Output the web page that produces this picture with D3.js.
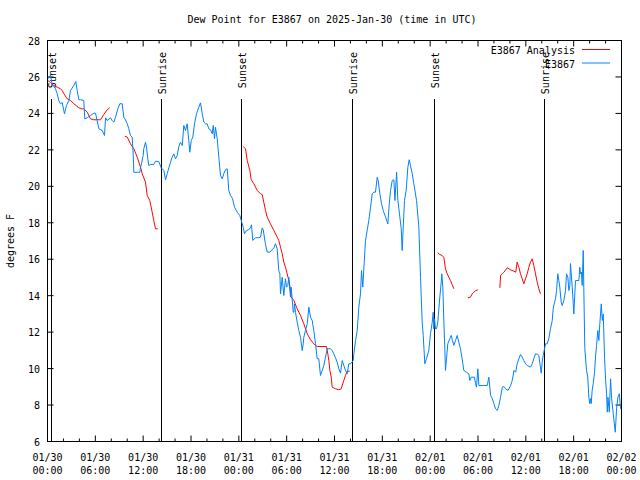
<!DOCTYPE html>
<html><head><meta charset="utf-8">
<script src="https://cdn.jsdelivr.net/npm/d3@7"></script>
<style>
html,body{margin:0;padding:0;background:#fff;}
text{font-family:"DejaVu Sans Mono","Liberation Mono",monospace;font-size:10px;fill:#000;}
</style></head>
<body><svg id="c" width="640" height="480"></svg>
<script>
// Hours after 2025-01-30 00:00 UTC
const obsHours = [0.04,0.38,0.59,1.0,1.22,1.42,1.63,1.84,2.13,2.38,2.67,2.89,3.3,3.55,3.72,3.93,4.14,4.55,4.68,4.98,5.39,5.81,6.02,6.23,6.44,6.86,7.15,7.28,7.49,7.9,8.12,8.32,8.53,8.82,9.07,9.37,9.57,9.78,10.0,10.2,10.41,10.62,10.75,10.83,11.25,11.58,11.67,11.79,12.0,12.08,12.29,12.42,12.58,12.71,12.92,13.33,13.55,13.96,14.26,14.59,14.8,15.02,15.22,15.43,15.64,15.84,16.06,16.27,16.47,16.68,16.9,17.1,17.31,17.52,17.72,17.85,18.03,18.23,18.44,18.69,18.98,19.19,19.41,19.61,19.82,20.03,20.23,20.45,20.66,20.79,20.95,21.07,21.29,21.49,21.7,21.92,22.11,22.33,22.54,22.62,22.74,22.96,23.21,23.46,23.8,24.12,24.55,24.71,24.96,25.25,25.46,25.59,25.75,26.09,26.5,26.72,26.93,27.06,27.33,27.56,27.88,28.19,28.4,28.6,28.81,29.01,29.15,29.23,29.44,29.64,29.85,29.98,30.14,30.27,30.48,30.57,30.69,30.82,30.9,30.98,31.11,31.32,31.52,31.74,31.95,32.08,32.15,32.36,32.58,32.78,32.99,33.2,33.4,33.62,33.83,34.03,34.24,34.46,34.66,35.09,35.5,35.71,35.91,36.13,36.34,36.54,36.75,36.97,37.17,37.38,37.59,37.79,38.01,38.35,38.43,38.64,38.85,39.05,39.26,39.39,39.55,39.68,39.89,40.1,40.3,40.52,40.73,40.93,41.14,41.36,41.48,41.69,41.9,42.11,42.41,42.69,42.87,43.03,43.24,43.45,43.58,43.79,43.95,44.15,44.37,44.49,44.62,44.78,44.99,45.2,45.37,45.53,45.75,45.95,46.29,46.58,46.79,47.0,47.13,47.33,47.54,47.83,48.04,48.26,48.38,48.46,48.54,48.67,48.8,48.96,49.21,49.39,49.46,49.59,49.72,49.84,49.92,50.05,50.21,50.46,50.64,50.8,50.97,51.18,51.39,51.59,51.8,52.01,52.22,52.56,52.85,52.97,53.15,53.56,53.69,53.81,53.98,54.11,54.53,55.16,55.36,55.58,55.79,55.99,56.21,56.42,56.62,56.83,57.05,57.25,57.47,57.76,58.09,58.3,58.51,58.73,58.91,59.13,59.33,59.54,59.75,59.96,60.17,60.58,60.8,61.0,61.21,61.43,61.63,61.93,62.05,62.18,62.34,62.47,62.68,62.88,63.09,63.31,63.43,63.6,63.72,63.85,64.01,64.14,64.26,64.44,64.56,64.77,64.98,65.1,65.27,65.4,65.52,65.6,65.82,65.95,66.02,66.23,66.65,66.77,66.86,66.98,67.07,67.2,67.27,67.4,67.61,67.77,67.9,68.02,68.11,68.2,68.32,68.45,68.62,68.74,68.87,69.03,69.16,69.28,69.46,69.59,69.71,69.88,70.01,70.13,70.22,70.3,70.47,70.63,70.76,70.97,71.1,71.22,71.38,71.55,71.73,71.89];
const obsDew = [25.9,26.1,25.6,25.35,25.08,24.7,24.53,24.6,23.98,24.43,24.7,25.26,25.53,25.75,25.26,24.75,24.75,24.71,23.7,23.76,23.89,24.01,24.01,23.61,23.16,23.06,22.79,23.76,23.61,23.76,23.61,23.52,23.79,24.25,24.53,24.53,23.79,23.65,23.43,23.16,22.79,22.7,21.78,20.77,20.77,20.77,21.05,21.24,21.69,22.06,22.42,22.15,21.51,21.14,21.2,21.2,21.38,21.36,21.02,20.87,20.36,20.69,21.02,21.32,21.6,21.78,21.51,21.69,22.18,22.42,22.24,23.34,23.06,23.43,22.51,21.87,22.51,22.7,23.43,23.98,24.34,24.58,23.98,23.52,23.43,23.43,23.16,23.1,22.88,23.34,22.61,23.24,22.61,21.6,20.6,20.41,20.69,20.91,20.96,20.5,19.77,19.5,19.33,18.85,18.58,18.4,17.76,17.4,17.58,17.62,17.73,17.89,17.03,17.18,17.18,17.21,17.72,17.62,16.85,16.39,16.39,16.52,16.63,16.85,16.57,15.38,15.2,14.1,15.01,14.01,14.93,14.47,14.56,15.01,13.92,14.47,13.83,13.09,13.09,13.55,13.09,12.55,12.09,11.72,10.99,11.36,11.72,12.09,12.46,13.37,12.82,12.64,12.09,11.36,10.54,10.54,9.62,9.9,10.17,11.09,11.09,10.99,10.81,10.59,10.35,9.99,9.75,10.44,10.17,9.9,9.71,10.26,10.26,10.44,10.81,11.54,12.09,13.37,14.1,15.38,14.47,15.47,17.03,17.58,18.12,18.85,19.59,19.68,19.68,20.5,20.32,19.59,19.04,18.67,18.31,17.94,19.04,19.77,20.32,20.36,19.22,20.77,19.22,18.49,17.67,16.48,17.76,19.22,19.77,21.05,21.46,21.14,20.69,20.14,19.22,17.76,15.01,12.55,11.82,10.26,10.54,10.99,11.91,12.55,13.09,12.18,12.73,12.18,12.18,12.55,13.92,14.74,15.2,14.47,12.55,11.09,9.9,10.54,11.36,11.64,11.82,11.54,11.27,11.54,11.82,11.45,11.09,10.54,9.9,9.8,9.71,9.35,9.53,9.53,9.17,8.98,9.99,9.07,9.07,9.07,9.53,8.53,8.35,8.08,7.79,7.7,7.98,8.43,8.98,9.02,8.89,8.8,9.07,9.35,9.9,9.8,10.26,10.54,10.77,10.63,10.44,10.26,10.17,10.08,10.26,10.54,10.81,10.79,10.72,9.75,10.35,10.72,11.09,11.36,11.36,11.64,12.18,12.64,13.28,13.64,13.83,14.28,15.2,14.83,14.47,13.64,13.46,13.74,14.28,15.2,15.01,14.28,14.56,15.76,14.47,13.55,13.0,14.83,14.83,15.56,15.2,15.29,14.56,16.48,14.47,11.09,9.9,9.53,8.43,8.08,8.35,8.08,8.8,9.17,9.8,10.63,11.27,12.09,11.54,12.46,13.55,12.64,13.0,10.54,9.35,8.62,7.61,8.43,7.61,9.44,8.35,7.52,6.97,6.51,7.79,8.43,8.62,7.79];

// Analysis series; null marks a gap
const anaHours = [0,0.38,0.79,1.22,1.63,1.84,2.05,2.47,2.89,3.3,3.93,4.35,4.55,4.98,5.39,5.81,6.65,7.06,7.49,7.81,8.5,
  9.7,10.0,10.41,10.83,11.25,11.67,11.88,12.29,12.51,12.83,13.13,13.33,13.55,13.84,20,
  24.55,24.84,25.05,25.38,25.55,25.89,26.31,26.72,26.93,27.13,27.35,27.56,27.97,28.39,28.81,29.01,29.23,29.44,29.64,29.85,30.06,30.27,30.39,30.57,30.9,31.32,31.74,32.15,32.58,32.99,33.4,33.83,35.0,35.16,35.29,35.42,35.59,35.71,36.13,36.54,36.84,37.17,37.38,37.59,37.92,44,
  48.96,49.21,49.51,49.71,49.92,50.14,50.34,50.55,50.76,50.97,52,
  52.72,53.06,53.27,53.48,53.69,53.98,55,
  56.74,56.83,57.05,57.25,57.67,58.09,58.51,58.73,58.91,59.13,59.33,59.54,59.75,59.96,60.17,60.38,60.58,60.8,61.0,61.21,61.43,61.63,61.84];
const anaDew = [25.81,25.7,25.53,25.44,25.35,25.26,25.08,24.8,24.71,24.53,24.31,24.25,24.25,24.07,23.7,23.65,23.65,23.94,24.2,24.31,null,
  22.75,22.7,22.33,22.06,21.6,21.05,20.69,20.23,19.5,19.22,18.58,18.12,17.67,17.67,null,
  22.18,22.06,21.42,20.87,20.36,20.14,19.77,19.59,19.55,19.13,18.67,18.31,17.94,17.58,17.21,17.03,16.66,16.3,15.84,15.56,15.2,14.83,14.56,13.92,13.74,13.28,12.91,12.46,11.91,11.58,11.36,11.21,11.21,10.81,10.44,9.9,9.53,8.98,8.89,8.84,8.89,9.35,9.62,9.86,9.86,null,
  16.35,16.26,16.2,16.11,15.47,15.2,15.01,14.83,14.61,14.38,null,
  13.88,13.92,14.1,14.19,14.28,14.32,null,
  14.43,15.11,15.2,15.29,15.53,15.42,15.34,15.29,15.84,15.56,15.2,14.93,14.65,14.93,15.2,15.56,15.84,16.02,15.66,15.2,14.74,14.38,14.1];

const sunHours = [0.5,14.3,24.33,38.26,48.54,62.34];
const sunLabels = ["Sunset","Sunrise","Sunset","Sunrise","Sunset","Sunrise"];
const xTickHours = [0,6,12,18,24,30,36,42,48,54,60,66,72];
const xTickDates = ["01/30","01/30","01/30","01/30","01/31","01/31","01/31","01/31","02/01","02/01","02/01","02/01","02/02"];
const xTickTimes = ["00:00","06:00","12:00","18:00","00:00","06:00","12:00","18:00","00:00","06:00","12:00","18:00","00:00"];
const yTicks = [6,8,10,12,14,16,18,20,22,24,26,28];
const seriesNames = ["E3867 Analysis","E3867"];
const seriesColors = ["#ff0000","#0080ff"];
const titleText = "Dew Point for E3867 on 2025-Jan-30 (time in UTC)";
const yLabel = "degrees F";

const L=47.5, T=40.5, R=621.5, B=441.5;
const svg = d3.select("#c");
const x = d3.scaleLinear().domain([0,72]).range([L,R]);
const y = d3.scaleLinear().domain([6,28]).range([B,T]);

svg.append("defs").append("clipPath").attr("id","clip")
  .append("rect").attr("x",L).attr("y",T).attr("width",R-L).attr("height",B-T);

// minor ticks every 2 hours
const minor = d3.range(0,73,2).filter(h=>h%6!==0);
const g = svg.append("g");
minor.forEach(h=>{
  g.append("line").attr("x1",x(h)).attr("x2",x(h)).attr("y1",B).attr("y2",B-3).attr("stroke","#000");
  g.append("line").attr("x1",x(h)).attr("x2",x(h)).attr("y1",T).attr("y2",T+3).attr("stroke","#000");
});
xTickHours.forEach((h,i)=>{
  g.append("line").attr("x1",x(h)).attr("x2",x(h)).attr("y1",B).attr("y2",B-6).attr("stroke","#000");
  g.append("line").attr("x1",x(h)).attr("x2",x(h)).attr("y1",T).attr("y2",T+6).attr("stroke","#000");
  g.append("text").attr("x",x(h)).attr("y",461).attr("text-anchor","middle").text(xTickDates[i]);
  g.append("text").attr("x",x(h)).attr("y",474).attr("text-anchor","middle").text(xTickTimes[i]);
});
yTicks.forEach(v=>{
  g.append("line").attr("x1",L).attr("x2",L+6).attr("y1",y(v)).attr("y2",y(v)).attr("stroke","#000");
  g.append("line").attr("x1",R).attr("x2",R-6).attr("y1",y(v)).attr("y2",y(v)).attr("stroke","#000");
  g.append("text").attr("x",40).attr("y",y(v)+4).attr("text-anchor","end").text(v);
});

// sun lines
sunHours.forEach((h,i)=>{
  const px = Math.floor(x(h))+0.5;
  svg.append("line").attr("x1",px).attr("x2",px).attr("y1",99).attr("y2",B).attr("stroke","#000");
  svg.append("text").attr("transform",`translate(${px+4.5},52) rotate(-90)`).attr("text-anchor","end").text(sunLabels[i]);
});

const line = d3.line().defined(d=>d[1]!==null).x(d=>x(d[0])).y(d=>y(d[1]));
const anaData = anaHours.map((h,i)=>[h,anaDew[i]]);
const obsData = obsHours.map((h,i)=>[h,obsDew[i]]);
svg.append("path").attr("d",line(anaData)).attr("fill","none").attr("stroke",seriesColors[0]).attr("stroke-width",1).attr("clip-path","url(#clip)");
svg.append("path").attr("d",line(obsData)).attr("fill","none").attr("stroke",seriesColors[1]).attr("stroke-width",1).attr("clip-path","url(#clip)");

// border
svg.append("rect").attr("x",L).attr("y",T).attr("width",R-L).attr("height",B-T).attr("fill","none").attr("stroke","#000");

// legend
seriesNames.forEach((n,i)=>{
  const ly = 50 + i*13.5;
  svg.append("text").attr("x",575).attr("y",ly+4).attr("text-anchor","end").text(n);
  svg.append("line").attr("x1",582).attr("x2",610).attr("y1",ly-0.5).attr("y2",ly-0.5).attr("stroke",seriesColors[i]);
});

svg.append("text").attr("x",332).attr("y",23).attr("text-anchor","middle").text(titleText);
svg.append("text").attr("transform","translate(14,241) rotate(-90)").attr("text-anchor","middle").text(yLabel);
</script></body></html>
